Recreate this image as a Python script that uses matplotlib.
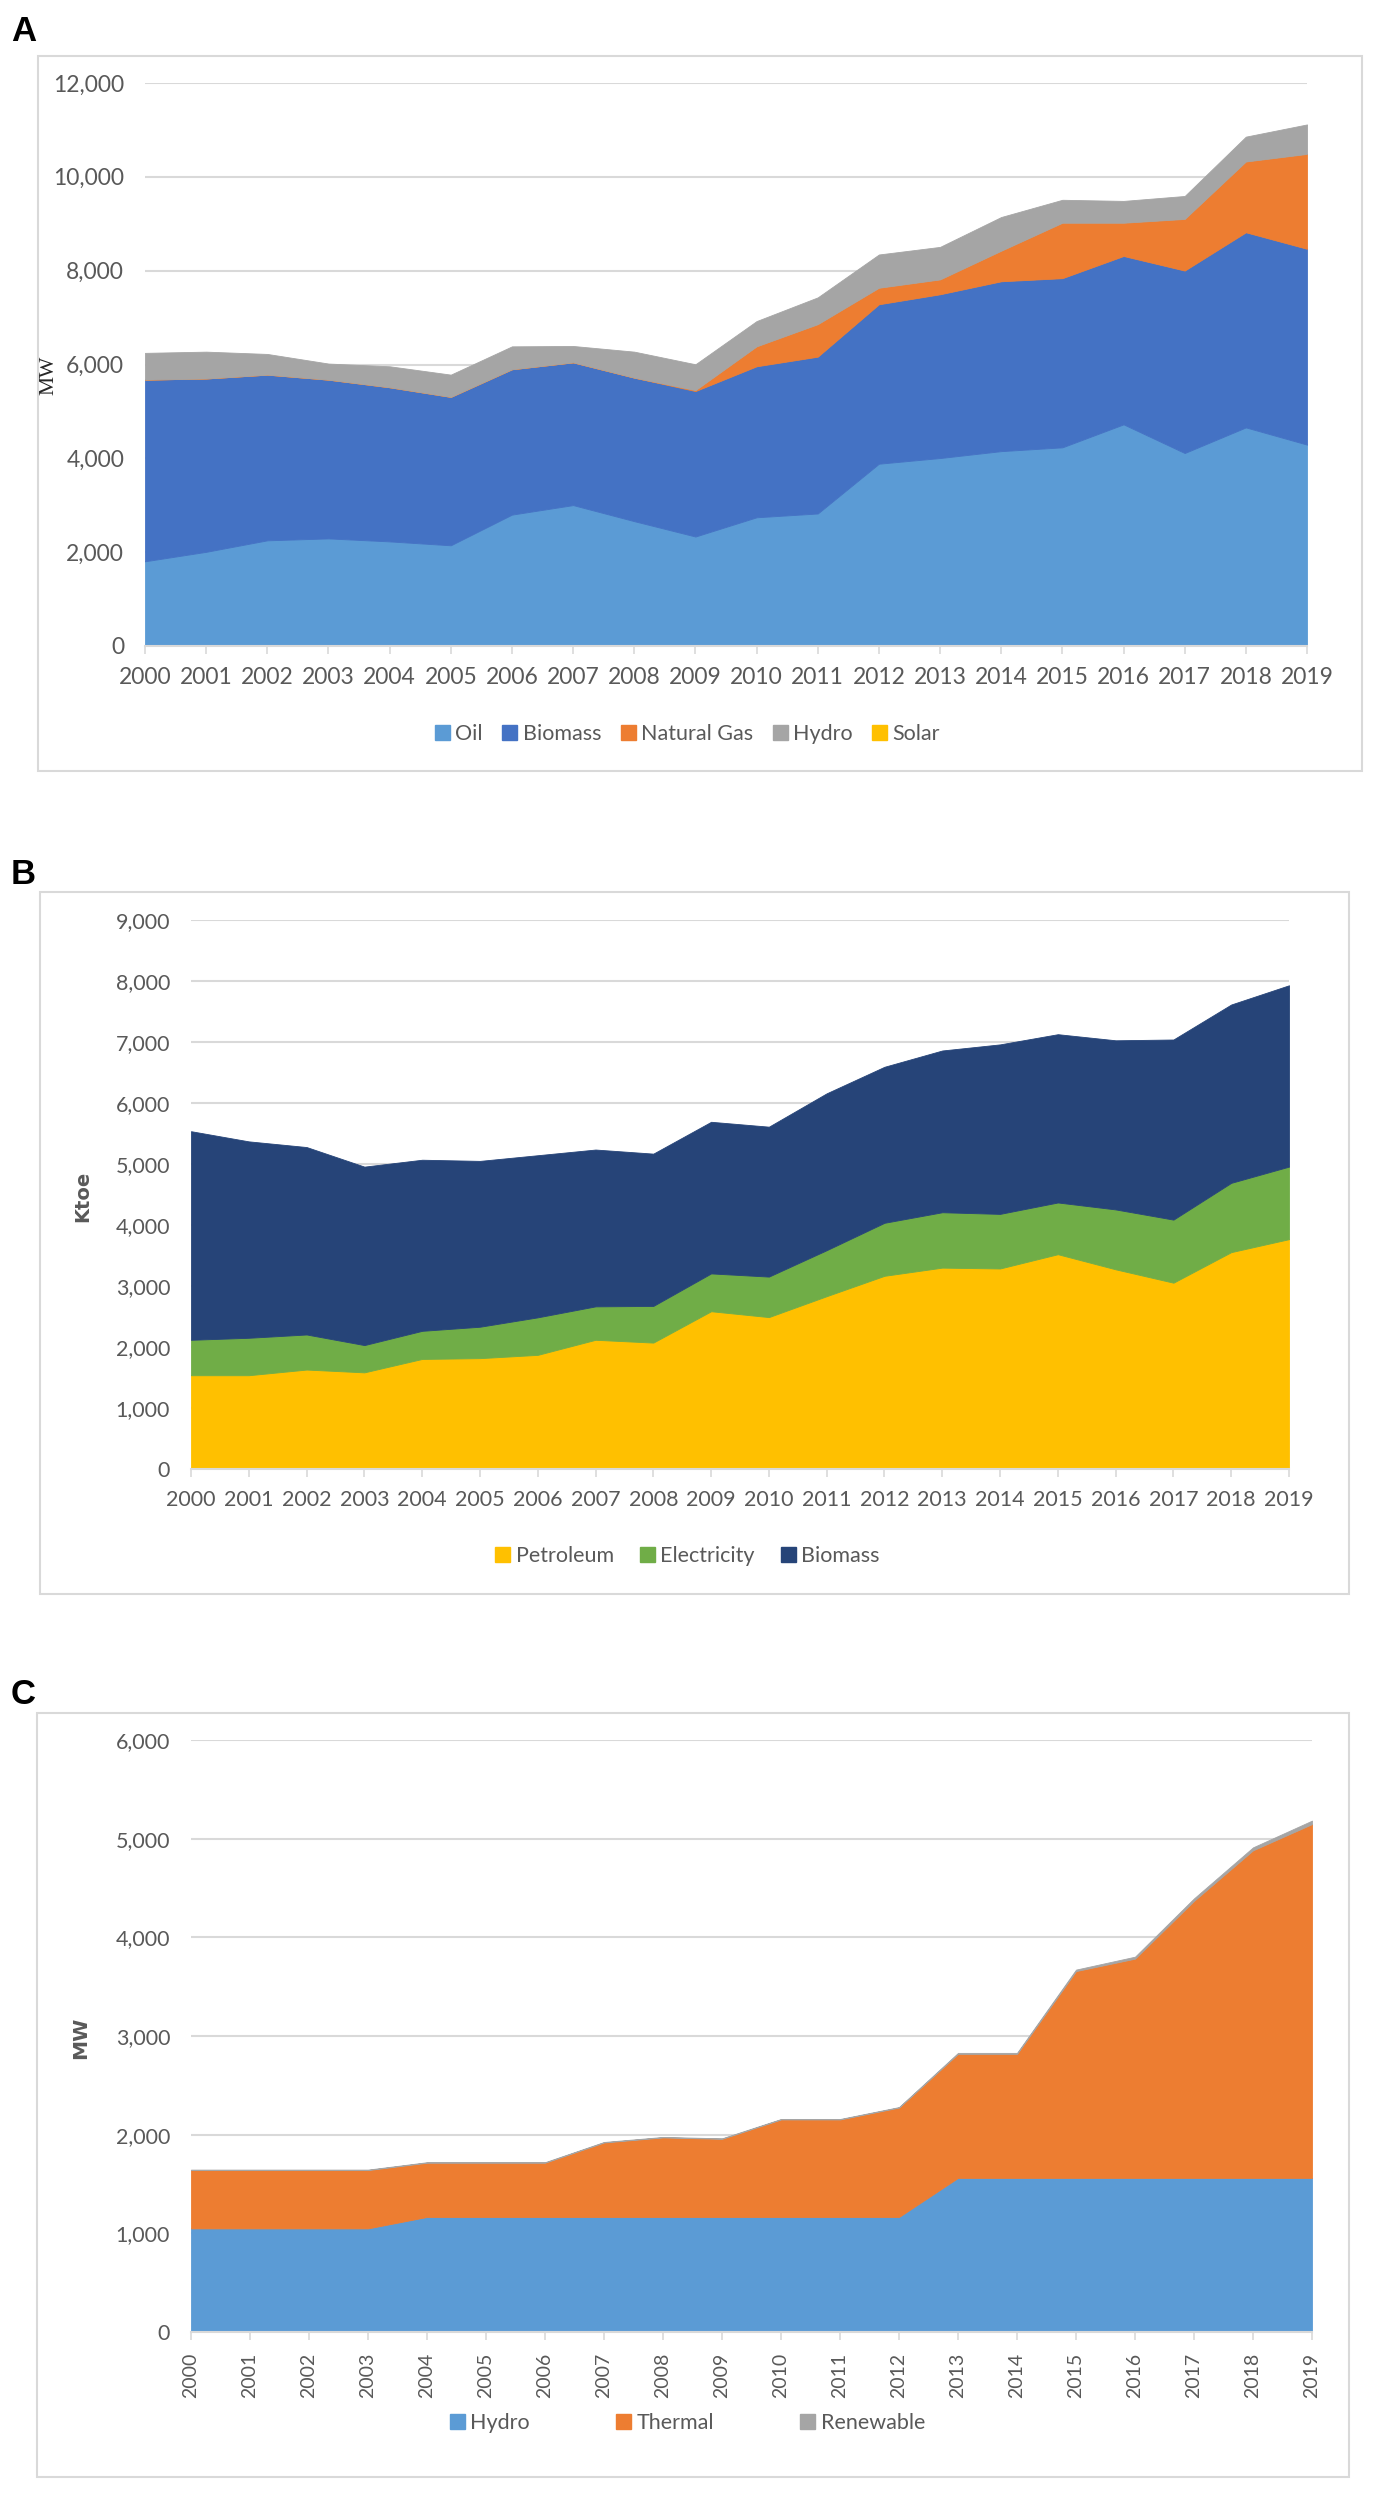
import matplotlib
matplotlib.use("Agg")
import matplotlib.pyplot as plt
import matplotlib.patches as mpatches
from matplotlib.ticker import FuncFormatter, MultipleLocator

plt.rcParams["font.family"] = ["Lato", "DejaVu Sans"]

years = list(range(2000, 2020))

# Panel A: installed capacity (MW)
oil = [1805, 2007, 2252, 2293, 2229, 2146, 2800, 3003, 2660, 2333,
       2743, 2824, 3885, 4006, 4153, 4234, 4724, 4113, 4659, 4292]
biomass_a = [3872, 3695, 3532, 3384, 3286, 3164, 3099, 3043, 3060, 3101,
             3219, 3343, 3399, 3491, 3621, 3606, 3589, 3889, 4159, 4174]
natural_gas = [0, 0, 0, 0, 0, 0, 0, 0, 0, 20,
               425, 693, 352, 317, 652, 1182, 709, 1101, 1509, 2023]
hydro_a = [571, 572, 441, 343, 447, 474, 488, 349, 554, 551,
           539, 571, 709, 693, 718, 489, 465, 489, 530, 628]
solar = [0] * 20

# Panel B: final energy consumption (Ktoe)
petroleum = [1537, 1537, 1630, 1584, 1804, 1817, 1871, 2118, 2072, 2586,
             2490, 2833, 3167, 3301, 3287, 3521, 3273, 3054, 3555, 3768]
electricity = [581, 614, 575, 447, 461, 515, 615, 548, 601, 620,
               664, 754, 869, 908, 895, 848, 982, 1034, 1136, 1189]
biomass_b = [3420, 3220, 3073, 2926, 2805, 2719, 2658, 2571, 2497, 2486,
             2458, 2572, 2558, 2652, 2779, 2759, 2773, 2953, 2924, 2973]

# Panel C: generation capacity (MW)
hydro_c = [1050, 1050, 1050, 1050, 1166, 1166, 1166, 1166, 1166, 1166,
           1166, 1166, 1166, 1562, 1562, 1562, 1562, 1562, 1562, 1562]
thermal = [591, 591, 591, 591, 550, 550, 550, 755, 806, 792,
           988, 988, 1109, 1257, 1257, 2096, 2222, 2808, 3320, 3586]
renewable = [5, 5, 5, 5, 5, 5, 5, 5, 5, 5,
             5, 5, 5, 10, 10, 15, 20, 25, 30, 35]

TICK_COLOR = "#595959"
GRID_COLOR = "#d9d9d9"

W, H = 1375, 2501
fig = plt.figure(figsize=(W / 100, H / 100), dpi=100)


def fx(px):
    return px / W


def fy(py):
    return 1 - py / H


def frame(x0, y0, x1, y1):
    fig.patches.append(mpatches.Rectangle(
        (fx(x0), fy(y1)), fx(x1 - x0), (y1 - y0) / H,
        transform=fig.transFigure, fill=False, edgecolor=GRID_COLOR, linewidth=1.5))


def make_axes(left, top, right, bottom):
    return fig.add_axes([fx(left), fy(bottom), fx(right - left), (bottom - top) / H])


def style(ax, ymax, step, fs, rot=0, xfs=None):
    ax.set_xlim(2000, 2019)
    ax.set_ylim(0, ymax)
    ax.yaxis.set_major_locator(MultipleLocator(step))
    ax.yaxis.set_major_formatter(FuncFormatter(lambda v, p: f"{int(v):,}"))
    ax.set_xticks(years)
    ax.set_xticklabels([str(y) for y in years], rotation=rot)
    ax.grid(axis="y", color=GRID_COLOR, linewidth=1.5)
    ax.set_axisbelow(True)
    for s in ("top", "right", "left"):
        ax.spines[s].set_visible(False)
    ax.spines["bottom"].set_color(GRID_COLOR)
    ax.spines["bottom"].set_linewidth(1.5)
    ax.tick_params(axis="y", length=0, pad=15, labelsize=fs, labelcolor=TICK_COLOR)
    ax.tick_params(axis="x", length=6, width=1.2, color=GRID_COLOR, pad=9,
                   labelsize=xfs or fs, labelcolor=TICK_COLOR)


def stack(ax, series, colors):
    polys = ax.stackplot(years, *series, colors=colors, linewidth=0)
    # edge in the face colour hides seams; an all-zero series gets no edge
    for p, c, s in zip(polys, colors, series):
        p.set_edgecolor(c)
        p.set_linewidth(0.6 if max(s) > 0 else 0)


def legend(ax, labels, colors, ycenter, spacing):
    handles = [mpatches.Patch(color=c, label=l) for l, c in zip(labels, colors)]
    ax.legend(handles=handles, loc="center", ncol=len(handles), frameon=False,
              bbox_to_anchor=(0.5, fy(ycenter)), bbox_transform=fig.transFigure,
              fontsize=15.5, labelcolor=TICK_COLOR, handlelength=0.7, handleheight=0.7,
              handletextpad=0.25, columnspacing=spacing)


def panel_letter(letter, baseline):
    fig.text(fx(11), fy(baseline), letter, fontsize=25, fontweight="bold",
             family=["Liberation Sans", "DejaVu Sans"], va="baseline")


# ---- A ----
frame(38, 56, 1362, 771)
panel_letter("A", 41)
axA = make_axes(145, 83, 1307, 646)
colA = ["#5B9BD5", "#4472C4", "#ED7D31", "#A5A5A5", "#FFC000"]
stack(axA, [oil, biomass_a, natural_gas, hydro_a, solar], colA)
style(axA, 12000, 2000, 16.5)
axA.set_ylabel("MW", family=["Liberation Serif", "DejaVu Serif"], fontsize=15.5,
               color="#262626", labelpad=4)
axA.yaxis.set_label_coords(fx(58), fy(375), transform=fig.transFigure)
legend(axA, ["Oil", "Biomass", "Natural Gas", "Hydro", "Solar"], colA, 734, 0.9)

# ---- B ----
frame(40, 892, 1349, 1594)
panel_letter("B", 884)
axB = make_axes(191, 920, 1289, 1469)
colB = ["#FFC000", "#70AD47", "#264478"]
stack(axB, [petroleum, electricity, biomass_b], colB)
style(axB, 9000, 1000, 15.5)
axB.set_ylabel("Ktoe", family=["DejaVu Sans"], fontweight="bold", fontsize=14,
               color=TICK_COLOR)
axB.yaxis.set_label_coords(fx(92), fy(1196), transform=fig.transFigure)
legend(axB, ["Petroleum", "Electricity", "Biomass"], colB, 1556, 1.2)

# ---- C ----
frame(37, 1713, 1349, 2477)
panel_letter("C", 1704)
axC = make_axes(191, 1740, 1312, 2332)
colC = ["#5B9BD5", "#ED7D31", "#A5A5A5"]
stack(axC, [hydro_c, thermal, renewable], colC)
style(axC, 6000, 1000, 15.5, rot=90, xfs=14)
axC.set_ylabel("MW", family=["DejaVu Sans"], fontweight="bold", fontsize=14.5,
               color=TICK_COLOR)
axC.yaxis.set_label_coords(fx(90), fy(2038), transform=fig.transFigure)
legend(axC, ["Hydro", "Thermal", "Renewable"], colC, 2423, 4.0)

fig.savefig("out.png", dpi=100)
